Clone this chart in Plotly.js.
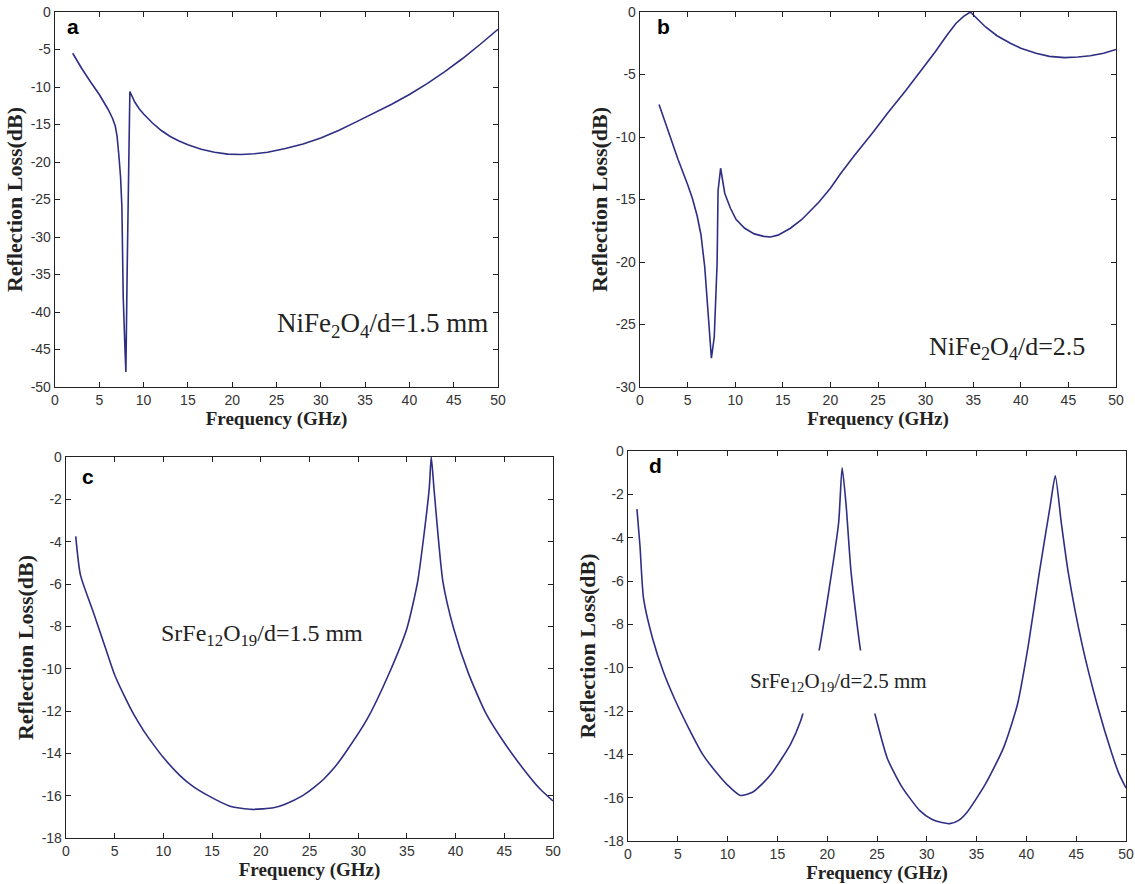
<!DOCTYPE html>
<html>
<head>
<meta charset="utf-8">
<script src="https://cdn.plot.ly/plotly-3.0.1.min.js"></script>
<style>html,body{margin:0;padding:0;background:#fff}#chart{width:1135px;height:884px}</style>
</head>
<body>
<div id="chart"></div>
<script>
// Panel a: NiFe2O4, d = 1.5 mm
const freqA = [2, 3, 4, 5, 6, 6.5, 6.8, 7.0, 7.2, 7.4, 7.55, 7.7, 7.9, 8.0, 8.15, 8.25, 8.35, 8.45, 9, 9.5, 10, 11, 12, 13, 14, 15, 16.5, 18, 19.5, 21, 22.5, 24, 26, 28, 30, 32, 34, 36, 38, 40, 42, 44, 46, 48, 50];
const rlA   = [-5.5, -7.5, -9.3, -11.0, -13.0, -14.2, -15.2, -16.5, -19, -22, -26, -38, -45, -48, -34, -25, -15.5, -10.6, -12.0, -12.9, -13.6, -14.8, -15.8, -16.6, -17.2, -17.7, -18.3, -18.7, -18.95, -19.0, -18.9, -18.7, -18.2, -17.6, -16.8, -15.8, -14.65, -13.5, -12.3, -11.0, -9.55, -7.95, -6.2, -4.3, -2.3];
// Panel b: NiFe2O4, d = 2.5
const freqB = [2, 3, 4, 5, 5.5, 6, 6.4, 6.8, 7.2, 7.5, 7.8, 8.1, 8.2, 8.47, 8.9, 9.5, 10.1, 11, 12, 13, 13.7, 14.5, 15.8, 17, 18.8, 20, 21.1, 22.5, 24.5, 26, 27.9, 29.5, 31, 32.2, 33.2, 34, 34.7, 35.5, 36.3, 37.5, 38.9, 40, 41.6, 43, 44.6, 46, 47.3, 48.7, 50];
const rlB   = [-7.4, -9.6, -11.8, -13.8, -14.9, -16.3, -17.8, -20.4, -24.4, -27.7, -26, -20.1, -14.3, -12.5, -14.5, -15.7, -16.6, -17.3, -17.75, -17.95, -18.0, -17.85, -17.3, -16.6, -15.2, -14.1, -12.9, -11.5, -9.6, -8.1, -6.3, -4.7, -3.2, -1.9, -0.9, -0.35, 0, -0.6, -1.2, -1.9, -2.5, -2.9, -3.3, -3.55, -3.65, -3.6, -3.5, -3.3, -3.0];
// Panel c: SrFe12O19, d = 1.5 mm
const freqC = [1.0, 1.48, 2.78, 4.07, 5, 6, 7, 8, 9, 10, 11.7, 13, 14.6, 16.85, 19.1, 21.3, 22.5, 24.3, 25.5, 26.5, 27.6, 28.7, 30.9, 33.1, 35, 36.1, 36.8, 37.3, 37.5, 37.8, 38.7, 39.8, 41.3, 43.1, 45, 46.9, 48.7, 50];
const rlC   = [-3.75, -5.57, -7.3, -9.05, -10.3, -11.3, -12.2, -12.95, -13.6, -14.2, -15.05, -15.55, -16.0, -16.5, -16.65, -16.57, -16.4, -16.0, -15.6, -15.2, -14.65, -13.96, -12.4, -10.3, -8.1, -5.9, -3.5, -1.45, 0, -1.6, -5.9, -8.1, -10.2, -12.1, -13.5, -14.7, -15.7, -16.25];
// Panel d: SrFe12O19, d = 2.5 mm
const freqD = [0.9, 1.2, 1.56, 2.47, 3.56, 4.64, 6.1, 7.5, 9.36, 10.3, 11.3, 12.5, 13.5, 14.4, 16.3, 17.3, 19.0, 20.2, 21.15, 21.5, 21.9, 22.4, 23.5, 25, 26.05, 27.5, 29.3, 30.5, 31.5, 32.3, 33.2, 34, 35.85, 37.7, 39.1, 40.2, 41.3, 42.4, 42.9, 43.5, 44.2, 45.6, 47.1, 48.6, 49.3, 50];
const rlD   = [-2.68, -4.36, -6.8, -8.65, -10.2, -11.4, -12.8, -14.0, -15.1, -15.55, -15.9, -15.75, -15.35, -14.9, -13.55, -12.5, -9.65, -6.35, -3.3, -0.77, -2.5, -5.6, -9.65, -12.5, -14.2, -15.5, -16.6, -17.0, -17.15, -17.2, -17.05, -16.7, -15.4, -13.7, -11.7, -8.95, -5.6, -2.5, -1.15, -3.3, -5.6, -8.95, -11.7, -14.0, -14.9, -15.55];

const xTicks = [0, 5, 10, 15, 20, 25, 30, 35, 40, 45, 50];
const yTicksA = [0, -5, -10, -15, -20, -25, -30, -35, -40, -45, -50];
const yTicksB = [0, -5, -10, -15, -20, -25, -30];
const yTicksCD = [0, -2, -4, -6, -8, -10, -12, -14, -16, -18];
const panelLetters = ['a', 'b', 'c', 'd'];
const panelLabels = ['NiFe<sub>2</sub>O<sub>4</sub>/d=1.5 mm', 'NiFe<sub>2</sub>O<sub>4</sub>/d=2.5', 'SrFe<sub>12</sub>O<sub>19</sub>/d=1.5 mm', 'SrFe<sub>12</sub>O<sub>19</sub>/d=2.5 mm'];
const xTitle = 'Frequency (GHz)';
const yTitle = 'Reflection Loss(dB)';

const W = 1135, H = 884;
const lineColor = '#2e2e84';
const tickFont = {family: 'Liberation Sans, Arial, sans-serif', size: 14, color: '#333'};
const xTitleFont = {family: 'Liberation Serif, Times New Roman, serif', size: 19, color: '#222', weight: 'bold'};
const yTitleFont = {family: 'Liberation Serif, Times New Roman, serif', size: 22, color: '#222', weight: 'bold'};

function px(x0, x1) { return [x0 / W, x1 / W]; }
function py(top, bottom) { return [1 - bottom / H, 1 - top / H]; }
const lab = v => String(v);

function xaxis(dom, anchor, standoff) {
  return {domain: dom, anchor: anchor, range: [0, 50], tickvals: xTicks, ticktext: xTicks.map(lab),
    ticks: 'inside', ticklen: 5, tickcolor: '#222', mirror: 'allticks', showline: true, linecolor: '#222', linewidth: 1.3,
    showgrid: false, zeroline: false, tickfont: tickFont,
    title: {text: xTitle, font: xTitleFont, standoff: standoff}};
}
function yaxis(dom, anchor, rng, ticks) {
  return {domain: dom, anchor: anchor, range: rng, tickvals: ticks, ticktext: ticks.map(lab),
    ticks: 'inside', ticklen: 5, tickcolor: '#222', mirror: 'allticks', showline: true, linecolor: '#222', linewidth: 1.3,
    showgrid: false, zeroline: false, tickfont: tickFont,
    title: {text: yTitle, font: yTitleFont, standoff: 2}};
}

const traces = [
  {x: freqA, y: rlA, xaxis: 'x', yaxis: 'y'},
  {x: freqB, y: rlB, xaxis: 'x2', yaxis: 'y2'},
  {x: freqC, y: rlC, xaxis: 'x3', yaxis: 'y3', line: {shape: 'spline', smoothing: 0.6}},
  {x: freqD, y: rlD, xaxis: 'x4', yaxis: 'y4', line: {shape: 'spline', smoothing: 0.6}}
].map(t => Object.assign({type: 'scatter', mode: 'lines', showlegend: false, hoverinfo: 'skip'}, t,
  {line: Object.assign({color: lineColor, width: 1.6}, t.line || {})}));

const letterFont = {family: 'Liberation Sans, Arial, sans-serif', size: 21, color: '#000', weight: 'bold'};
const labelFont = {family: 'Liberation Serif, Times New Roman, serif', size: 27, color: '#222'};

const annotations = [
  {xref: 'x domain', yref: 'y domain', x: 0.022, y: 0.998, text: panelLetters[0], showarrow: false, xanchor: 'left', yanchor: 'top', font: letterFont},
  {xref: 'x2 domain', yref: 'y2 domain', x: 0.032, y: 0.998, text: panelLetters[1], showarrow: false, xanchor: 'left', yanchor: 'top', font: letterFont},
  {xref: 'x3 domain', yref: 'y3 domain', x: 0.028, y: 0.985, text: panelLetters[2], showarrow: false, xanchor: 'left', yanchor: 'top', font: letterFont},
  {xref: 'x4 domain', yref: 'y4 domain', x: 0.038, y: 0.998, text: panelLetters[3], showarrow: false, xanchor: 'left', yanchor: 'top', font: letterFont},
  {xref: 'x', yref: 'y', x: 37.0, y: -41.8, text: panelLabels[0], showarrow: false, font: labelFont},
  {xref: 'x2', yref: 'y2', x: 38.6, y: -26.9, text: panelLabels[1], showarrow: false, font: Object.assign({}, labelFont, {size: 26})},
  {xref: 'x3', yref: 'y3', x: 20.1, y: -8.4, text: panelLabels[2], showarrow: false, font: Object.assign({}, labelFont, {size: 24})},
  {xref: 'x4', yref: 'y4', x: 21.1, y: -10.65, text: panelLabels[3], showarrow: false, font: Object.assign({}, labelFont, {size: 21}),
   bgcolor: '#fff', borderpad: 18}
];

const layout = {
  width: W, height: H, margin: {l: 0, r: 0, t: 0, b: 0},
  paper_bgcolor: '#fff', plot_bgcolor: '#fff', showlegend: false,
  xaxis: xaxis(px(55, 498), 'y', 2), yaxis: yaxis(py(12, 387), 'x', [-50, 0], yTicksA),
  xaxis2: xaxis(px(640, 1116), 'y2', 2), yaxis2: yaxis(py(12, 387), 'x2', [-30, 0], yTicksB),
  xaxis3: xaxis(px(66, 553), 'y3', 1), yaxis3: yaxis(py(457, 838), 'x3', [-18, 0], yTicksCD),
  xaxis4: xaxis(px(628, 1126), 'y4', 1), yaxis4: yaxis(py(451, 841), 'x4', [-18, 0], yTicksCD),
  annotations: annotations
};

Plotly.newPlot('chart', traces, layout, {staticPlot: true, displayModeBar: false});
</script>
</body>
</html>
